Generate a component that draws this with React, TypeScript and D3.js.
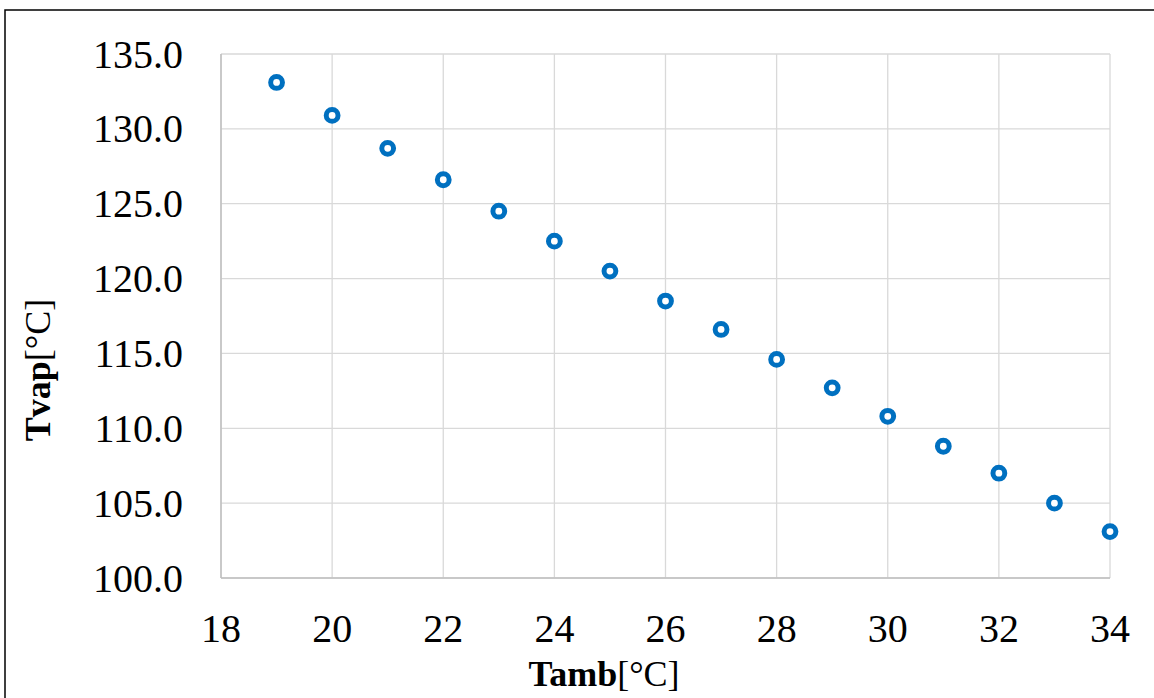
import React from 'react';
import * as d3 from 'd3';

// Tamb [°C] vs Tvap [°C]
const tamb = [19, 20, 21, 22, 23, 24, 25, 26, 27, 28, 29, 30, 31, 32, 33, 34];
const tvap = [133.1, 130.9, 128.7, 126.6, 124.5, 122.5, 120.5, 118.5, 116.6, 114.6, 112.7, 110.8, 108.8, 107.0, 105.0, 103.1];
const xTicks = [18, 20, 22, 24, 26, 28, 30, 32, 34];
const yTicks = [100, 105, 110, 115, 120, 125, 130, 135];

const width = 1154;
const height = 698;
const plot = { left: 221, right: 1110, top: 54, bottom: 578 };
const font = '"Liberation Serif", "Times New Roman", serif';

export default function App() {
    const x = d3.scaleLinear().domain([18, 34]).range([plot.left, plot.right]);
    const y = d3.scaleLinear().domain([100, 135]).range([plot.bottom, plot.top]);

    return (
        <div style={{ position: 'absolute', left: 0, top: 0 }}>
            <svg width={width} height={height} style={{ display: 'block', background: '#fff' }}>
                {/* outer frame, only top and left visible */}
                <rect x={5} y={10} width={width + 20} height={height + 20} fill="none" stroke="#000" strokeWidth={1.5} />

                {/* gridlines */}
                {yTicks.map(t => (
                    <line key={'gy' + t} x1={plot.left} x2={plot.right} y1={y(t)} y2={y(t)} stroke="#d9d9d9" strokeWidth={1.3} />
                ))}
                {xTicks.map(t => (
                    <line key={'gx' + t} x1={x(t)} x2={x(t)} y1={plot.top} y2={plot.bottom} stroke="#d9d9d9" strokeWidth={1.3} />
                ))}
                {/* axis lines */}
                <line x1={plot.left} x2={plot.right} y1={plot.bottom} y2={plot.bottom} stroke="#bfbfbf" strokeWidth={1.5} />
                <line x1={plot.left} x2={plot.left} y1={plot.top} y2={plot.bottom} stroke="#bfbfbf" strokeWidth={1.5} />

                {/* tick labels */}
                {yTicks.map(t => (
                    <text key={'ty' + t} x={183} y={y(t)} dy="0.34em" textAnchor="end" fontFamily={font} fontSize={40} fill="#000">
                        {d3.format('.1f')(t)}
                    </text>
                ))}
                {xTicks.map(t => (
                    <text key={'tx' + t} x={x(t)} y={642} textAnchor="middle" fontFamily={font} fontSize={40} fill="#000">
                        {t}
                    </text>
                ))}

                {/* points */}
                {tamb.map((t, i) => (
                    <circle key={'p' + t} cx={x(t)} cy={y(tvap[i])} r={5.9} fill="#fff" stroke="#0070c0" strokeWidth={5} />
                ))}

                {/* axis titles */}
                <text x={604} y={686} textAnchor="middle" fontFamily={font} fontSize={36} fill="#000">
                    <tspan fontWeight="bold">Tamb</tspan>[°C]
                </text>
                <text transform={`translate(50,370) rotate(-90)`} textAnchor="middle" fontFamily={font} fontSize={36} fill="#000">
                    <tspan fontWeight="bold">Tvap</tspan>[°C]
                </text>
            </svg>
        </div>
    );
}
